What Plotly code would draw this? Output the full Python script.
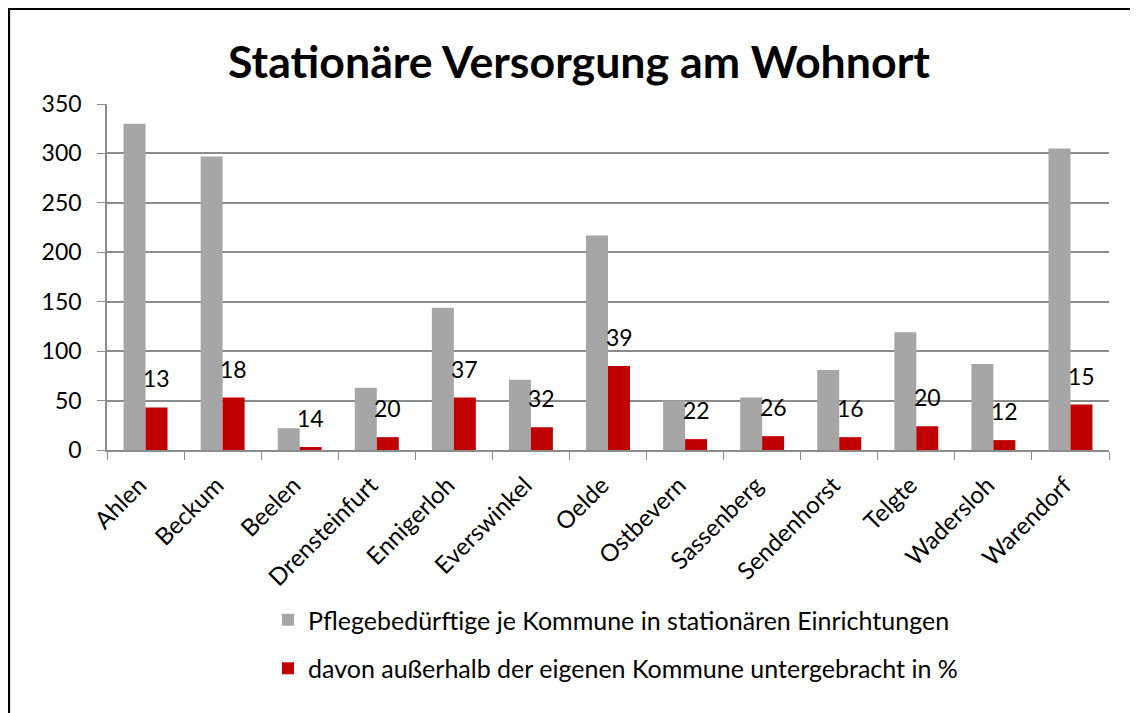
import plotly.graph_objects as go

kommunen = ["Ahlen", "Beckum", "Beelen", "Drensteinfurt", "Ennigerloh", "Everswinkel",
            "Oelde", "Ostbevern", "Sassenberg", "Sendenhorst", "Telgte", "Wadersloh", "Warendorf"]
pflegebeduerftige = [330, 297, 22, 63, 144, 71, 217, 50, 53, 81, 119, 87, 305]
ausserhalb = [43, 53, 3, 13, 53, 23, 85, 11, 14, 13, 24, 10, 46]
ausserhalb_prozent = [13, 18, 14, 20, 37, 32, 39, 22, 26, 16, 20, 12, 15]

FONT = "Lato"
GREY = "#A6A6A6"
RED = "#C00000"
AX = "#8C8C8C"

OFF = 8  # page body margin
W, H = 1138 - OFF, 713 - OFF
L, T = 107 - OFF, 104 - OFF
PR, PB = 1109 - OFF, 450 - OFF
R, B = W - PR, H - PB
PW, PH = PR - L, PB - T

def px2x(px):
    return (px - OFF - L) / PW

def py2y(py):
    return (PB - (py - OFF)) / PH

fig = go.Figure()
fig.add_trace(go.Bar(
    x=kommunen, y=pflegebeduerftige,
    name="Pflegebedürftige je Kommune in stationären Einrichtungen",
    marker=dict(color=GREY, line=dict(width=0)), legendgroup="a",
))
fig.add_trace(go.Bar(
    x=kommunen, y=ausserhalb,
    name="davon außerhalb der eigenen Kommune untergebracht in %",
    marker=dict(color=RED, line=dict(width=0)), legendgroup="b",
))

for k, v, p in zip(kommunen, ausserhalb, ausserhalb_prozent):
    fig.add_annotation(x=k, y=v, text=str(p), showarrow=False,
                       xref="x", yref="y", xshift=11, yshift=13, yanchor="bottom",
                       font=dict(family=FONT, size=23, color="black"))

# outer frame
fig.add_shape(type="rect", xref="paper", yref="paper",
              x0=px2x(9), x1=px2x(1160), y0=py2y(740), y1=py2y(9),
              line=dict(color="black", width=2.2), fillcolor="rgba(0,0,0,0)", layer="above")

fig.update_layout(
    width=W, height=H,
    margin=dict(l=L, r=R, t=T, b=B),
    paper_bgcolor="white", plot_bgcolor="white",
    barmode="group", bargap=0.43, bargroupgap=0,
    title=dict(text="<b>Stationäre Versorgung am Wohnort</b>", xref="container",
               x=(579 - OFF) / W, xanchor="center", y=1 - (62 - OFF) / H, yanchor="middle",
               font=dict(family=FONT, size=44.7, color="black")),
    font=dict(family=FONT, size=22, color="black"),
    showlegend=True,
    legend=dict(x=px2x(268), y=py2y(597), xanchor="left", yanchor="top",
                orientation="v", traceorder="grouped", tracegroupgap=13,
                font=dict(family=FONT, size=25, color="black"),
                itemwidth=30, bgcolor="rgba(0,0,0,0)"),
    xaxis=dict(tickangle=-45, ticks="outside", tickson="boundaries", ticklen=8,
               tickcolor=AX, showline=True, linecolor=AX, linewidth=1.5,
               ticklabelshift=-6, ticklabelstandoff=10,
               tickfont=dict(family=FONT, size=24, color="black"), showgrid=False),
    yaxis=dict(range=[0, 350], dtick=50, ticks="outside", ticklen=8, tickcolor=AX,
               showline=True, linecolor=AX, linewidth=1.5, ticklabelstandoff=11,
               showgrid=True, gridcolor=AX, gridwidth=1.5,
               tickfont=dict(family=FONT, size=23, color="black"), zeroline=False),
)

fig.write_html("out.html")
